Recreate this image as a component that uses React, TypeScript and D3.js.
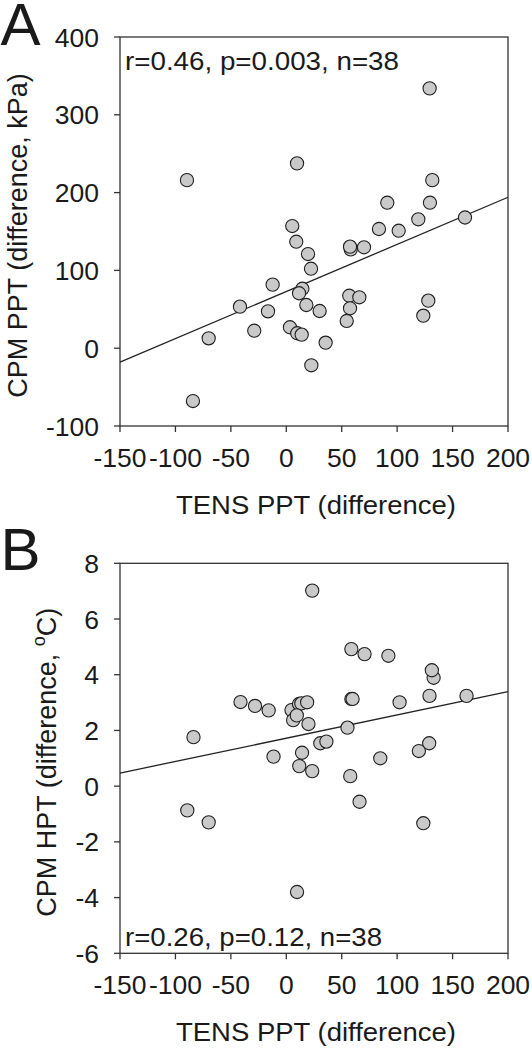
import React from "react";
import * as d3 from "d3";

// ---- data ----
const xTicks = [-150, -100, -50, 0, 50, 100, 150, 200];
const xDomain = [-150, 200];

const aYTicks = [-100, 0, 100, 200, 300, 400];
const aYDomain = [-100, 400];
const aX = [-89.6, 9.7, 131.7, 91.1, 129.6, 161.2, 119.1, 83.6, 101.4, 5.4, 9.0, 19.6, 22.3, 58.1, 57.5, 70.1, -12.3, 14.5, 11.5, -41.8, -16.5, 18.1, 30.1, 56.8, 65.9, 57.5, 54.5, 128.1, 123.6, -28.9, 3.3, 9.9, 13.9, -70, 35.5, 22.6, -84.2, 129.3];
const aY = [216, 237.6, 216, 187, 187, 168, 165.7, 153.2, 151, 157, 136.9, 121, 102.2, 127, 130.5, 129.7, 81.7, 76.5, 70.6, 53.4, 47.4, 55.5, 47.8, 67.5, 65.4, 51.3, 35, 61.1, 41.8, 22.5, 26.9, 19.2, 17.4, 12.7, 7.1, -22, -67.9, 334];
const aFitX = [-150, 200];
const aFitY = [-18, 194];

const bYTicks = [-6, -4, -2, 0, 2, 4, 6, 8];
const bYDomain = [-6, 8];
const bX = [23.4, 58.7, 70.6, 92.1, 132.9, 131.3, 129.2, 162.6, 102.2, 58.7, 59.8, -41.3, -28.2, -15.9, 4.7, 6.2, 11.5, 13.6, 18.8, 9.5, 20, -83.7, 55.2, 30.7, 36.2, 128.9, 119.6, 14.2, -11.5, 84.8, 11.7, 23.4, 57.7, -89.3, -70, 66.1, 123.6, 9.7];
const bY = [7.02, 4.92, 4.74, 4.68, 3.89, 4.16, 3.24, 3.24, 3.01, 3.13, 3.13, 3.02, 2.88, 2.72, 2.73, 2.37, 2.95, 2.97, 3.01, 2.54, 2.23, 1.76, 2.10, 1.54, 1.60, 1.54, 1.26, 1.20, 1.06, 1.0, 0.72, 0.54, 0.36, -0.87, -1.30, -0.56, -1.33, -3.80];
const bFitX = [-150, 200];
const bFitY = [0.47, 3.39];

const FONT = "'Liberation Sans', Arial, Helvetica, sans-serif";
const INK = "#1a1a1a";

type PanelProps = {
  letter: string;
  top: number;
  bottom: number;
  yDomain: number[];
  yTicks: number[];
  xs: number[];
  ys: number[];
  fitX: number[];
  fitY: number[];
  note: string;
  noteY: number;
  noteLen: number;
  yLabel: React.ReactNode;
  yLabelX: number;
  letterY: number;
};

function Panel(p: PanelProps) {
  const left = 120;
  const right = 508;
  const x = d3.scaleLinear().domain(xDomain).range([left, right]);
  const y = d3.scaleLinear().domain(p.yDomain).range([p.bottom, p.top]);
  const line = d3
    .line<number>()
    .x((d) => x(d))
    .y((_, i) => y(p.fitY[i]));
  const mid = (p.top + p.bottom) / 2;
  return (
    <g>
      <text x={0.5} y={p.letterY} fontSize={60} fontFamily={FONT} fill={INK}>
        {p.letter}
      </text>
      <rect
        x={left}
        y={p.top}
        width={right - left}
        height={p.bottom - p.top}
        fill="none"
        stroke="#333"
        strokeWidth={1.3}
      />
      {xTicks.map((t) => (
        <g key={"xt" + t}>
          <line x1={x(t)} x2={x(t)} y1={p.bottom} y2={p.bottom + 6} stroke="#333" strokeWidth={1.3} />
          <text
            x={x(t)}
            y={p.bottom + 41}
            textAnchor="middle"
            fontSize={26.5}
            fontFamily={FONT}
            fill={INK}
          >
            {t}
          </text>
        </g>
      ))}
      {p.yTicks.map((t) => (
        <g key={"yt" + t}>
          <line x1={left - 6} x2={left} y1={y(t)} y2={y(t)} stroke="#333" strokeWidth={1.3} />
          <text
            x={99}
            y={y(t)}
            dy="0.36em"
            textAnchor="end"
            fontSize={26.5}
            fontFamily={FONT}
            fill={INK}
          >
            {t}
          </text>
        </g>
      ))}
      <path d={line(p.fitX) || ""} fill="none" stroke="#222" strokeWidth={1.3} />
      {p.xs.map((v, i) => (
        <circle
          key={"pt" + i}
          cx={x(v)}
          cy={y(p.ys[i])}
          r={6.6}
          fill="#c9c9c9"
          stroke="#1e1e1e"
          strokeWidth={1.1}
        />
      ))}
      <text
        x={125}
        y={p.noteY}
        fontSize={26}
        fontFamily={FONT}
        fill={INK}
        textLength={p.noteLen}
        lengthAdjust="spacingAndGlyphs"
      >
        {p.note}
      </text>
      <text
        x={(left + right) / 2 + 2}
        y={p.bottom + 88}
        textAnchor="middle"
        fontSize={26.5}
        fontFamily={FONT}
        fill={INK}
        textLength={280}
        lengthAdjust="spacingAndGlyphs"
      >
        TENS PPT (difference)
      </text>
      <text
        transform={`translate(${p.yLabelX},${mid + 4}) rotate(-90)`}
        textAnchor="middle"
        fontSize={27}
        fontFamily={FONT}
        fill={INK}
      >
        {p.yLabel}
      </text>
    </g>
  );
}

export default function App() {
  return (
    <svg
      width={532}
      height={1050}
      style={{ position: "absolute", left: 0, top: 0, background: "#fff" }}
    >
      <rect x={0} y={0} width={532} height={1050} fill="#fff" />
      <Panel
        letter="A"
        letterY={45}
        top={37}
        bottom={426}
        yDomain={aYDomain}
        yTicks={aYTicks}
        xs={aX}
        ys={aY}
        fitX={aFitX}
        fitY={aFitY}
        note="r=0.46, p=0.003, n=38"
        noteY={70}
        noteLen={274}
        yLabelX={27}
        yLabel={"CPM PPT (difference, kPa)"}
      />
      <Panel
        letter="B"
        letterY={570}
        top={563.3}
        bottom={953.3}
        yDomain={bYDomain}
        yTicks={bYTicks}
        xs={bX}
        ys={bY}
        fitX={bFitX}
        fitY={bFitY}
        note="r=0.26, p=0.12, n=38"
        noteY={946}
        noteLen={257}
        yLabelX={56}
        yLabel={
          <>
            CPM HPT (difference, <tspan dy={-11} fontSize={18}>o</tspan>
            <tspan dy={11}>C)</tspan>
          </>
        }
      />
    </svg>
  );
}
